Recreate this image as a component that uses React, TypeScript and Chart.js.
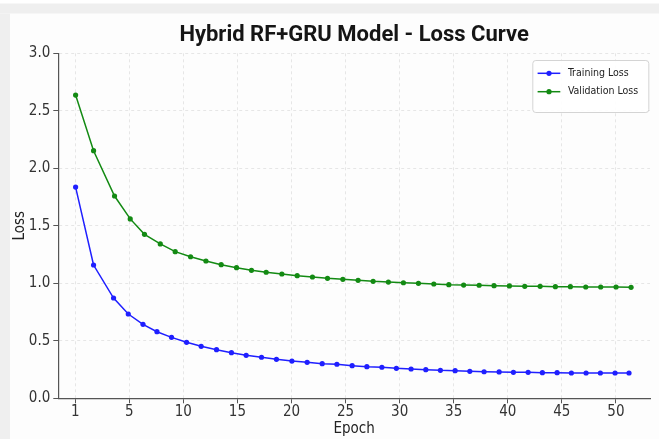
import React, { useEffect, useRef } from 'react';
import { Chart, registerables } from 'chart.js';

Chart.register(...registerables);

const chartTitle = 'Hybrid RF+GRU Model - Loss Curve';
const xAxisTitle = 'Epoch';
const yAxisTitle = 'Loss';

const trainLabel = 'Training Loss';
const trainEpochs = [
  0.04, 1.7, 3.55, 4.91, 6.27, 7.56, 8.91, 10.3, 11.65, 13.07, 14.45, 15.81, 17.23, 18.61, 20.04, 21.45, 22.84,
  24.2, 25.61, 26.97, 28.36, 29.7, 31.06, 32.42, 33.77, 35.13, 36.49, 37.81, 39.2, 40.52, 41.88, 43.2, 44.56,
  45.88, 47.24, 48.56, 49.92, 51.21,
];
const trainLoss = [
  1.837, 1.159, 0.872, 0.733, 0.643, 0.579, 0.53, 0.487, 0.452, 0.423, 0.397, 0.374, 0.357, 0.339, 0.324, 0.313, 0.301,
  0.296, 0.284, 0.275, 0.27, 0.261, 0.255, 0.249, 0.243, 0.24, 0.235, 0.231, 0.229, 0.226, 0.226, 0.223, 0.223,
  0.22, 0.22, 0.22, 0.22, 0.22,
];

const valLabel = 'Validation Loss';
const valEpochs = [
  0.04, 1.7, 3.64, 5.09, 6.41, 7.87, 9.25, 10.67, 12.09, 13.5, 14.92, 16.3, 17.66, 19.11, 20.53, 21.94, 23.33,
  24.75, 26.16, 27.55, 28.96, 30.35, 31.74, 33.16, 34.55, 35.92, 37.35, 38.73, 40.15, 41.57, 42.99, 44.4, 45.79,
  47.21, 48.59, 50.01, 51.4,
];
const valLoss = [
  2.637, 2.153, 1.759, 1.56, 1.426, 1.342, 1.275, 1.231, 1.194, 1.162, 1.136, 1.113, 1.096, 1.081, 1.066, 1.055, 1.043,
  1.035, 1.026, 1.017, 1.011, 1.005, 1.0, 0.994, 0.988, 0.985, 0.983, 0.979, 0.977, 0.974, 0.974, 0.971, 0.971,
  0.968, 0.968, 0.968, 0.965,
];

// tick positions on the x scale and the labels shown there
const xTickValues = [0, 5, 10, 15, 20, 25, 30, 35, 40, 45, 50];
const xTickLabels = ['1', '5', '10', '15', '20', '25', '30', '35', '40', '45', '50'];
const yTickValues = [0, 0.5, 1.0, 1.5, 2.0, 2.5, 3.0];

const W = 659;
const H = 439;
const FONT = '"Liberation Sans Narrow", "DejaVu Sans Condensed", Roboto, sans-serif';
const TITLE_FONT = 'Roboto, "Liberation Sans", sans-serif';
const BLUE = '#1f1fff';
const GREEN = '#138a13';

const backgroundPlugin = {
  id: 'pageBackground',
  beforeDraw(chart: any) {
    const { ctx, width, height } = chart;
    ctx.save();
    ctx.fillStyle = '#fdfdfd';
    ctx.fillRect(0, 0, width, height);
    ctx.fillStyle = '#ffffff';
    ctx.fillRect(0, 0, width, 3.5);
    ctx.fillStyle = '#efefef';
    ctx.fillRect(0, 3.5, width, 10);
    ctx.fillRect(0, 13.5, 10, height - 13.5);
    ctx.restore();
  },
};

const boxLegendPlugin = {
  id: 'boxLegend',
  afterDraw(chart: any) {
    const { ctx, chartArea } = chart;
    const w = 116;
    const h = 52;
    const x0 = chartArea.right - w - 1.7;
    const y0 = chartArea.top + 6.7;
    ctx.save();
    ctx.beginPath();
    ctx.roundRect(x0 + 0.5, y0 + 0.5, w, h, 3);
    ctx.fillStyle = 'rgba(255,255,255,0.9)';
    ctx.fill();
    ctx.strokeStyle = '#d4d4d4';
    ctx.lineWidth = 1;
    ctx.stroke();
    chart.data.datasets.forEach((ds: any, i: number) => {
      const cy = y0 + 13.3 + i * 18.4;
      ctx.beginPath();
      ctx.moveTo(x0 + 5.3, cy);
      ctx.lineTo(x0 + 28, cy);
      ctx.strokeStyle = ds.borderColor;
      ctx.lineWidth = 1.5;
      ctx.stroke();
      ctx.beginPath();
      ctx.arc(x0 + 16.7, cy, 2.6, 0, Math.PI * 2);
      ctx.fillStyle = ds.borderColor;
      ctx.fill();
      ctx.fillStyle = '#222';
      ctx.font = `10.5px ${FONT}`;
      ctx.textBaseline = 'middle';
      ctx.textAlign = 'left';
      ctx.fillText(ds.label, x0 + 35.6, cy);
    });
    ctx.restore();
  },
};

export default function App() {
  const ref = useRef<HTMLCanvasElement | null>(null);

  useEffect(() => {
    document.body.style.margin = '0';
    const canvas = ref.current;
    if (!canvas) return;
    const chart = new Chart(canvas, {
      type: 'line',
      data: {
        datasets: [
          {
            label: trainLabel,
            data: trainEpochs.map((x, i) => ({ x, y: trainLoss[i] })),
            borderColor: BLUE,
            backgroundColor: BLUE,
            borderWidth: 1.5,
            pointRadius: 2.6,
            pointBorderWidth: 0,
            pointHoverRadius: 3,
            tension: 0,
          },
          {
            label: valLabel,
            data: valEpochs.map((x, i) => ({ x, y: valLoss[i] })),
            borderColor: GREEN,
            backgroundColor: GREEN,
            borderWidth: 1.5,
            pointRadius: 2.6,
            pointBorderWidth: 0,
            pointHoverRadius: 3,
            tension: 0,
          },
        ],
      },
      options: {
        animation: false,
        responsive: false,
        devicePixelRatio: 1,
        layout: { padding: { left: 10, right: 9, top: 0, bottom: 0 } },
        plugins: {
          legend: { display: false },
          tooltip: { enabled: false },
          title: {
            display: true,
            text: chartTitle,
            fullSize: false,
            color: '#151515',
            font: { family: TITLE_FONT, size: 22, weight: 'bold', lineHeight: 1.2 },
            padding: { top: 21.8, bottom: 5.1 },
          },
        },
        scales: {
          x: {
            type: 'linear',
            min: -1.56,
            max: 53.15,
            afterBuildTicks: (scale: any) => {
              scale.ticks = xTickValues.map((v) => ({ value: v }));
            },
            afterFit: (scale: any) => {
              scale.height = 40.7;
            },
            ticks: {
              autoSkip: false,
              maxRotation: 0,
              padding: 0,
              color: '#333',
              font: { family: FONT, size: 15 },
              callback: (v: any) => {
                const i = xTickValues.indexOf(Number(v));
                return i >= 0 ? xTickLabels[i] : '';
              },
            },
            grid: {
              color: 'rgba(0,0,0,0.09)',
              lineWidth: 1,
              tickColor: '#555',
              tickLength: 5,
              tickWidth: 1,
            },
            border: { display: true, color: '#555', width: 1.2, dash: [3, 3] },
            title: {
              display: true,
              text: xAxisTitle,
              color: '#222',
              font: { family: FONT, size: 15, lineHeight: 1.2 },
              padding: { top: 0, bottom: 0.6 },
            },
          },
          y: {
            type: 'linear',
            min: 0,
            max: 3,
            afterBuildTicks: (scale: any) => {
              scale.ticks = yTickValues.map((v) => ({ value: v }));
            },
            afterFit: (scale: any) => {
              scale.width = 48.3;
            },
            ticks: {
              padding: 3,
              color: '#333',
              font: { family: FONT, size: 15 },
              callback: (v: any) => Number(v).toFixed(1),
            },
            grid: {
              color: 'rgba(0,0,0,0.09)',
              lineWidth: 1,
              tickColor: '#555',
              tickLength: 5,
              tickWidth: 1,
            },
            border: { display: true, color: '#555', width: 1.2, dash: [3, 3] },
            title: {
              display: true,
              text: yAxisTitle,
              color: '#222',
              font: { family: FONT, size: 15, lineHeight: 1.2 },
              padding: { top: 1.6, bottom: 0 },
            },
          },
        },
      },
      plugins: [backgroundPlugin, boxLegendPlugin],
    } as any);
    return () => chart.destroy();
  }, []);

  return (
    <div style={{ width: W, height: H, position: 'relative', overflow: 'hidden' }}>
      <canvas ref={ref} width={W} height={H} style={{ display: 'block', width: W, height: H }} />
    </div>
  );
}
